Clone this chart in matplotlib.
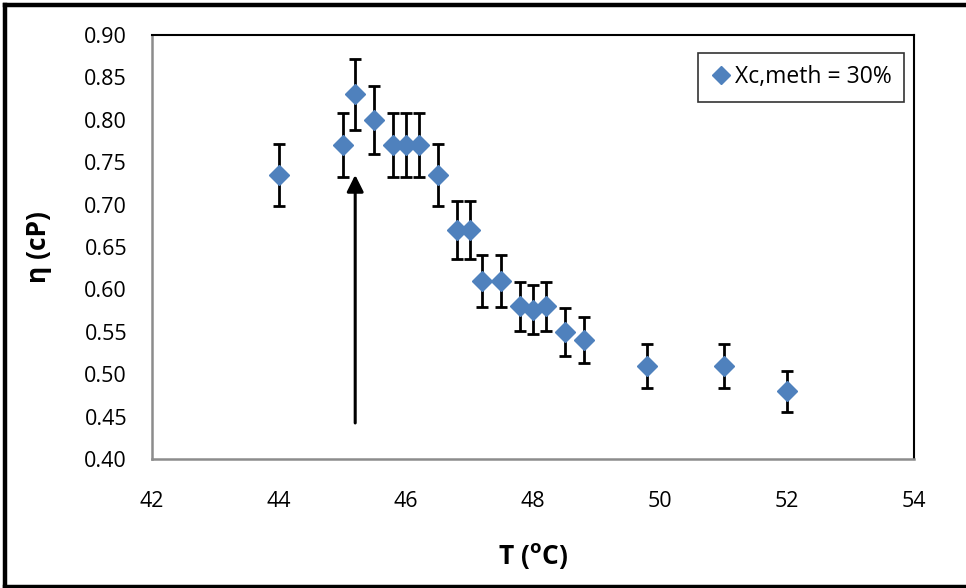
import matplotlib
matplotlib.use("Agg")
import matplotlib.pyplot as plt
from matplotlib.lines import Line2D

plt.rcParams['font.family'] = ['Open Sans', 'DejaVu Sans']
plt.rcParams['mathtext.fontset'] = 'custom'
plt.rcParams['mathtext.bf'] = 'Open Sans:bold'
plt.rcParams['mathtext.rm'] = 'Open Sans'

# Data
temperature = [44.0, 45.0, 45.2, 45.5, 45.8, 46.0, 46.2, 46.5, 46.8, 47.0,
               47.2, 47.5, 47.8, 48.0, 48.2, 48.5, 48.8, 49.8, 51.0, 52.0]
viscosity = [0.735, 0.77, 0.83, 0.80, 0.77, 0.77, 0.77, 0.735, 0.67, 0.67,
             0.61, 0.61, 0.58, 0.576, 0.58, 0.55, 0.54, 0.51, 0.51, 0.48]
error = [0.037, 0.038, 0.042, 0.040, 0.038, 0.038, 0.038, 0.037, 0.034, 0.034,
         0.031, 0.031, 0.029, 0.029, 0.029, 0.028, 0.027, 0.026, 0.026, 0.024]
series_label = "Xc,meth = 30%"
x_ticks = [42, 44, 46, 48, 50, 52, 54]
y_ticks = [0.40, 0.45, 0.50, 0.55, 0.60, 0.65, 0.70, 0.75, 0.80, 0.85, 0.90]
arrow_x = 45.2
arrow_y_start = 0.4425
arrow_y_end = 0.735

fig = plt.figure(figsize=(9.66, 5.88), dpi=100)
ax = fig.add_axes([152/966, 1-459/588, (914-152)/966, (459-35)/588])

ax.errorbar(temperature, viscosity, yerr=error, fmt='none', ecolor='black',
            elinewidth=2.0, capsize=4.5, capthick=2.0, zorder=2)
ax.plot(temperature, viscosity, linestyle='none', marker='D', markersize=10,
        color='#4F81BD', markeredgecolor='#4F81BD', label=series_label, zorder=3)

ax.annotate('', xy=(arrow_x, arrow_y_end), xytext=(arrow_x, arrow_y_start),
            arrowprops=dict(arrowstyle='-|>,head_length=1.0,head_width=0.5',
                            color='black', lw=2.2, shrinkA=0, shrinkB=0))

ax.set_xlim(42, 54)
ax.set_ylim(0.40, 0.90)
ax.set_xticks(x_ticks)
ax.set_xticklabels([str(v) for v in x_ticks])
ax.set_yticks(y_ticks)
ax.set_yticklabels([f"{v:.2f}" for v in y_ticks])
ax.tick_params(axis='both', length=0, labelsize=15.5, colors='black')
ax.tick_params(axis='y', pad=18)
ax.tick_params(axis='x', pad=23)

for side in ['left', 'bottom']:
    ax.spines[side].set_color('#8C8C8C')
    ax.spines[side].set_linewidth(1.8)
for side in ['top', 'right']:
    ax.spines[side].set_color('black')
    ax.spines[side].set_linewidth(1.5)

ax.set_xlabel(r'T ($\mathbf{^o}$C)', fontsize=19, fontweight='bold', labelpad=21)
ax.set_ylabel('η (cP)', fontsize=19, fontweight='bold', labelpad=23)

leg = ax.legend(loc='upper right', bbox_to_anchor=(0.987, 0.958), fontsize=16.5,
                frameon=True, fancybox=False, borderpad=0.55, handlelength=0.9,
                handletextpad=0.15, borderaxespad=0, markerscale=0.95)
leg.get_frame().set_edgecolor('black')
leg.get_frame().set_linewidth(1.2)

# outer chart border
fig.add_artist(Line2D([5/966, 1.1], [1-5/588, 1-5/588], transform=fig.transFigure, color='black', lw=3.2))
fig.add_artist(Line2D([5/966, 5/966], [1-5/588, 1.5/588], transform=fig.transFigure, color='black', lw=3.2))
fig.add_artist(Line2D([5/966, 1.1], [1.5/588, 1.5/588], transform=fig.transFigure, color='black', lw=3.2))

fig.savefig('out.png', dpi=100)
